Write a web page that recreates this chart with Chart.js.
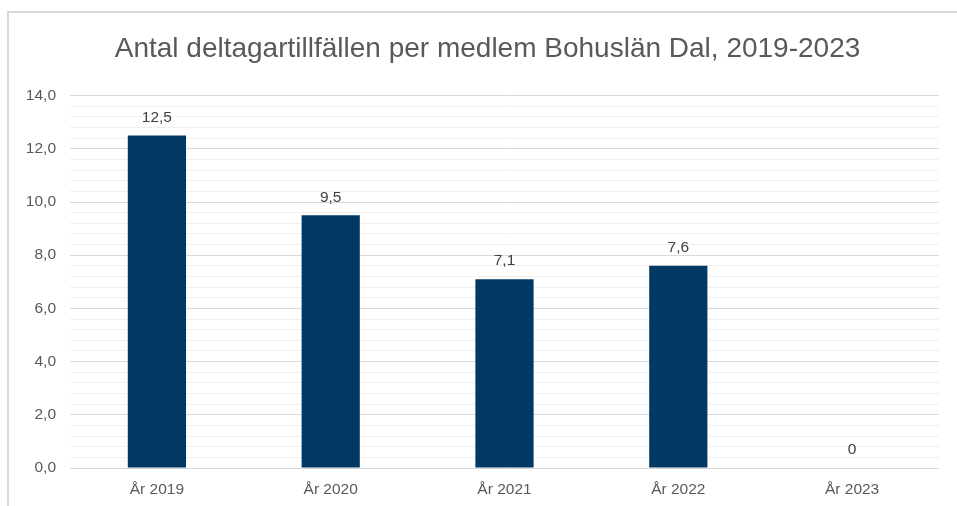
<!DOCTYPE html>
<html>
<head>
<meta charset="utf-8">
<script src="https://cdn.jsdelivr.net/npm/chart.js@4"></script>
<style>
  html, body { margin: 0; padding: 0; background: #fff; }
  #wrap { position: relative; width: 957px; height: 506px; overflow: hidden; }
  #frame { position: absolute; left: 7px; top: 11px; width: 1000px; height: 600px; border-left: 2px solid #d9d9d9; border-top: 2px solid #d9d9d9; box-sizing: border-box; }
  canvas { position: absolute; left: 0; top: 0; }
</style>
</head>
<body>
<div id="wrap">
  <div id="frame"></div>
  <canvas id="c" width="957" height="506"></canvas>
</div>
<script>
const titleText = 'Antal deltagartillfällen per medlem Bohuslän Dal, 2019-2023';
const categories = ['År 2019', 'År 2020', 'År 2021', 'År 2022', 'År 2023'];
const values = [12.5, 9.5, 7.1, 7.6, 0];
const yMin = 0, yMax = 14, majorStep = 2, minorStep = 0.4;

const fmt = v => v === 0 ? '0' : v.toFixed(1).replace('.', ',');
const isMajor = v => Math.abs(v / majorStep - Math.round(v / majorStep)) < 1e-6;
const FONT = '"Liberation Sans", Arial, sans-serif';

const labelPlugin = {
  id: 'barLabels',
  afterLayout(chart) {
    const tb = chart.titleBlock;
    if (tb) { tb.left += 18; tb.right += 18; }
  },
  afterDatasetsDraw(chart) {
    const ctx = chart.ctx;
    const meta = chart.getDatasetMeta(0);
    ctx.save();
    ctx.font = '15.5px ' + FONT;
    ctx.fillStyle = '#404040';
    ctx.textAlign = 'center';
    ctx.textBaseline = 'middle';
    meta.data.forEach((el, i) => {
      ctx.fillText(fmt(values[i]), el.x, el.y - 18);
    });
    ctx.restore();
  }
};

new Chart(document.getElementById('c'), {
  type: 'bar',
  data: {
    labels: categories,
    datasets: [{
      data: values,
      backgroundColor: '#023864',
      borderWidth: 0,
      categoryPercentage: 0.335,
      barPercentage: 1
    }]
  },
  options: {
    responsive: false,
    animation: false,
    layout: { padding: { left: 0, right: 18, top: 0, bottom: 0 } },
    plugins: {
      legend: { display: false },
      tooltip: { enabled: false },
      title: {
        display: true,
        text: titleText,
        color: '#595959',
        font: { family: FONT, size: 28, weight: 'normal' },
        padding: { top: 32, bottom: 30 }
      }
    },
    scales: {
      x: {
        grid: { display: false, drawTicks: false },
        border: { display: false },
        ticks: {
          color: '#595959',
          padding: 12,
          font: { family: FONT, size: 15.5 }
        },
        afterFit(scale) { scale.height = 38; }
      },
      y: {
        min: yMin,
        max: yMax,
        border: { display: false },
        grid: {
          drawTicks: false,
          color: ctx => isMajor(ctx.tick.value) ? '#d9d9d9' : '#f0f0f0',
          lineWidth: 1
        },
        ticks: {
          stepSize: minorStep,
          autoSkip: false,
          color: '#595959',
          padding: 14,
          font: { family: FONT, size: 15.5 },
          callback: v => isMajor(v) ? v.toFixed(1).replace('.', ',') : ''
        },
        afterFit(scale) { scale.width = 70; }
      }
    }
  },
  plugins: [labelPlugin]
});
</script>
</body>
</html>
